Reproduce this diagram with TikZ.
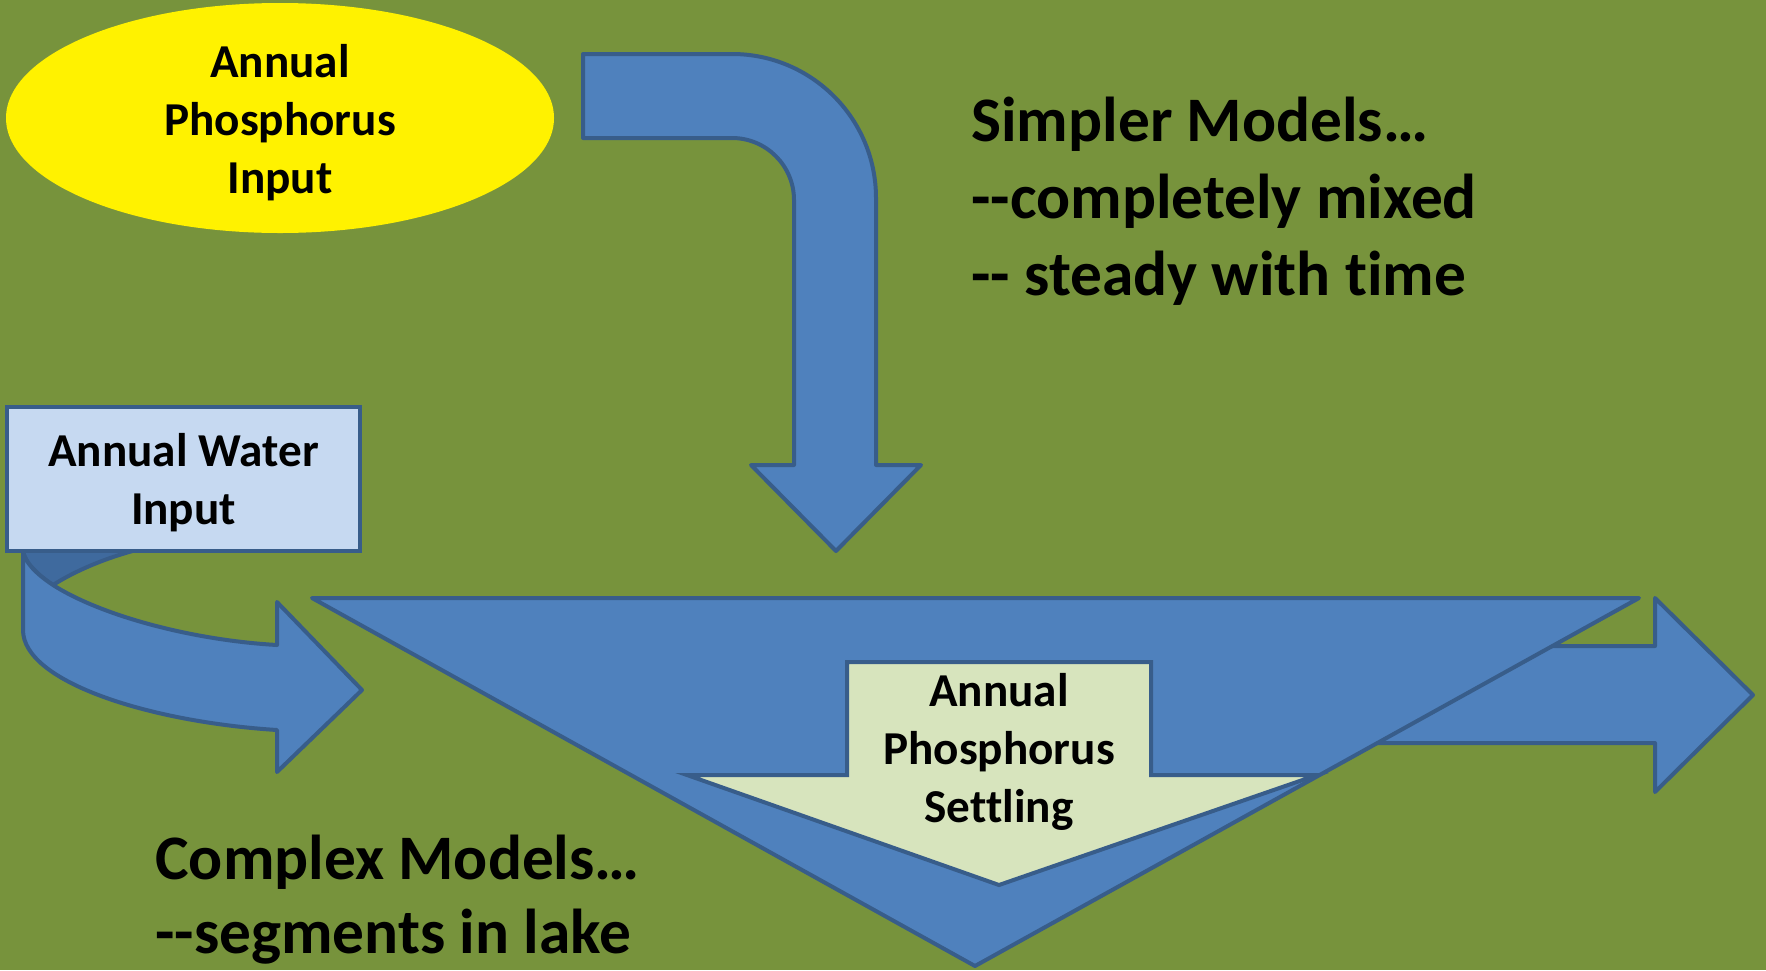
\documentclass[tikz,border=0pt]{standalone}
\usepackage{fontspec}
\newfontfamily\calib[Ligatures=NoCommon]{Carlito}
\usetikzlibrary{shapes.geometric}
\definecolor{bggreen}{HTML}{77933C}
\definecolor{arrowblue}{HTML}{4F81BD}
\definecolor{edgeblue}{HTML}{385D8A}
\definecolor{backblue}{HTML}{3F6A9E}
\definecolor{boxblue}{HTML}{C6D9F1}
\definecolor{settlegreen}{HTML}{D7E4BD}
\tikzset{
  blueshape/.style={fill=arrowblue, draw=edgeblue, line width=2pt, line join=round},
  smalltext/.style={font=\calib\bfseries\fontsize{23.6pt}{29pt}\selectfont, align=center, text=black},
  bigtext/.style={font=\calib\bfseries\fontsize{31.7pt}{38.5pt}\selectfont, align=left, text=black, inner sep=0pt, anchor=west}
}
\begin{document}
\begin{tikzpicture}[x=0.5pt,y=-0.5pt]
\useasboundingbox (0,0) rectangle (1766,970);
\fill[bggreen] (0,0) rectangle (1766,970);

% outflow arrow (right)
\path[blueshape] (1300,646) -- (1655,646) -- (1655,598) -- (1753,695) -- (1655,792) -- (1655,743) -- (1300,743) -- cycle;

% lake triangle
\path[blueshape] (312,598) -- (1639,598) -- (975,966) -- cycle;

% settling arrow
\path[fill=settlegreen, draw=edgeblue, line width=2pt, line join=miter]
  (847,662) -- (1151,662) -- (1151,775) -- (1317,775) -- (999,885) -- (687,775) -- (847,775) -- cycle;
\node[smalltext] (settle) at (999,752) {Annual\\Phosphorus\\Settling};

% bent arrow from phosphorus input
\path[blueshape] (583,54) -- (732,54) arc[start angle=-90, end angle=0, radius=144] -- (876,465) -- (921,465) -- (836,551) -- (751,465) -- (794,465) -- (794,200) arc[start angle=0, end angle=-90, radius=62] -- (583,138) -- cycle;

% curved arrow from water input (back face)
\path[fill=backblue, draw=edgeblue, line width=2pt, line join=round]
  (23,545) -- (23,551) .. controls (25,562) and (35,573) .. (53,585) .. controls (75,571) and (105,558) .. (140,549) -- (140,545) -- cycle;
% front face
\path[blueshape] (23,551) -- (23,630) .. controls (23,682) and (150,722) .. (277,730) -- (277,772) -- (362,690) -- (277,602) -- (277,645) .. controls (190,640) and (100,615) .. (53,585) .. controls (35,573) and (25,562) .. (23,551) -- cycle;

% water input box
\node[rectangle, fill=boxblue, draw=edgeblue, line width=2pt, minimum width=176.5pt, minimum height=72pt, inner sep=0pt] (water) at (183.5,479) {};
\node[smalltext] (watertext) at (183.5,483) {Annual Water\\Input};

% phosphorus input ellipse
\node[ellipse, fill=yellow, minimum width=274pt, minimum height=115pt, inner sep=0pt] (pin) at (280,118) {};
\node[smalltext] (pintext) at (280,123) {Annual\\Phosphorus\\Input};

% texts
\node[bigtext] (simpler) at (971,201) {Simpler Models…\\--completely mixed\\-- steady with time};
\node[bigtext, font=\calib\bfseries\fontsize{31.7pt}{37pt}\selectfont] (complex) at (155,900) {Complex Models…\\--segments in lake};
\end{tikzpicture}
\end{document}
